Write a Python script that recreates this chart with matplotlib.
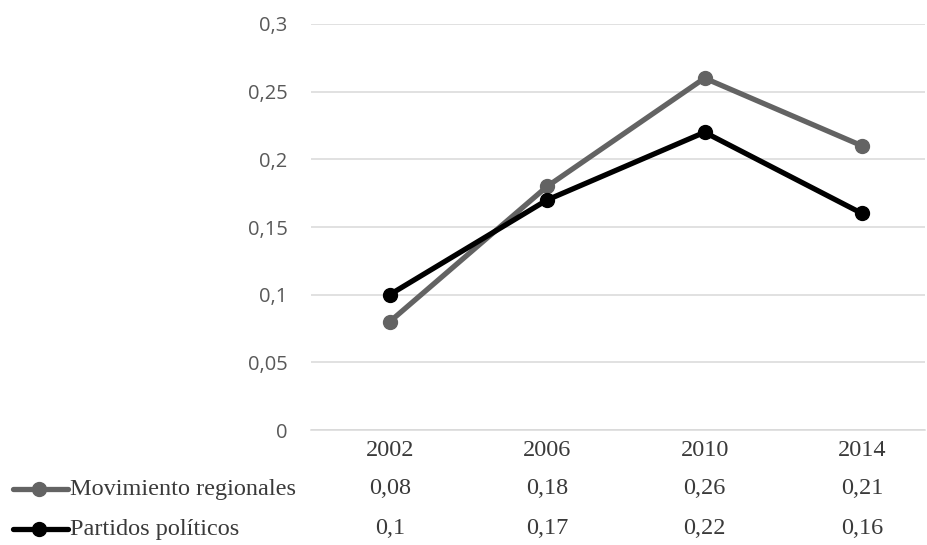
import matplotlib
matplotlib.use("Agg")
import matplotlib.pyplot as plt
import matplotlib.transforms as mtransforms
from matplotlib.lines import Line2D

years = ["2002", "2006", "2010", "2014"]
movimientos = [0.08, 0.18, 0.26, 0.21]
partidos = [0.10, 0.17, 0.22, 0.16]
series_names = ["Movimiento regionales", "Partidos políticos"]
y_ticks = [0, 0.05, 0.10, 0.15, 0.20, 0.25, 0.30]
y_labels = ["0", "0,05", "0,1", "0,15", "0,2", "0,25", "0,3"]

W, H = 927, 545
fig = plt.figure(figsize=(W / 100, H / 100), dpi=100)
ax = fig.add_axes([311 / W, 1 - 430 / H, (925 - 311) / W, (430 - 24) / H])

gray = "#636363"
black = "#000000"
x = list(range(len(years)))

ax.plot(x, movimientos, color=gray, lw=3.8, marker="o", ms=10, zorder=3,
        solid_capstyle="round")
ax.plot(x, partidos, color=black, lw=3.8, marker="o", ms=10, zorder=4,
        solid_capstyle="round")

ax.set_xlim(-0.5, 3.4)
ax.set_ylim(0, 0.3)
ax.set_yticks(y_ticks)
ax.set_yticklabels(y_labels, family="Open Sans", fontsize=14.5, color="#595959")
ax.tick_params(axis="y", length=0, pad=17)
ax.set_xticks([])
ax.grid(axis="y", color="#d9d9d9", lw=1.1)
ax.set_axisbelow(True)
for s in ["top", "right", "left"]:
    ax.spines[s].set_visible(False)
ax.spines["bottom"].set_color("#d9d9d9")
ax.spines["bottom"].set_linewidth(1.1)

# Data table under the axis
blend = mtransforms.blended_transform_factory(ax.transData, fig.transFigure)
serif = dict(family="Liberation Serif", fontsize=17.5, color="#3a3a3a",
             va="center")

def fy(py):
    return 1 - py / H

for xi, yr in zip(x, years):
    ax.text(xi, fy(450), yr, transform=blend, ha="center", **serif)

rows = [(movimientos, fy(489)), (partidos, fy(529))]
for vals, ty in rows:
    for xi, v in zip(x, vals):
        lbl = f"{v:.2f}".rstrip("0").replace(".", ",")
        ax.text(xi, ty, lbl, transform=blend, ha="center", **serif)

# Legend keys inside the table rows
for (vals, ty), col, name in zip(rows, [gray, black], series_names):
    fig.add_artist(Line2D([13 / W, 68 / W], [ty, ty], transform=fig.transFigure,
                          color=col, lw=3.8, solid_capstyle="round"))
    fig.add_artist(Line2D([39 / W], [ty], transform=fig.transFigure, color=col,
                          marker="o", ms=10, lw=0))
    fig.text(70 / W, ty, name, ha="left", **serif)

fig.savefig("out.png", dpi=100)
